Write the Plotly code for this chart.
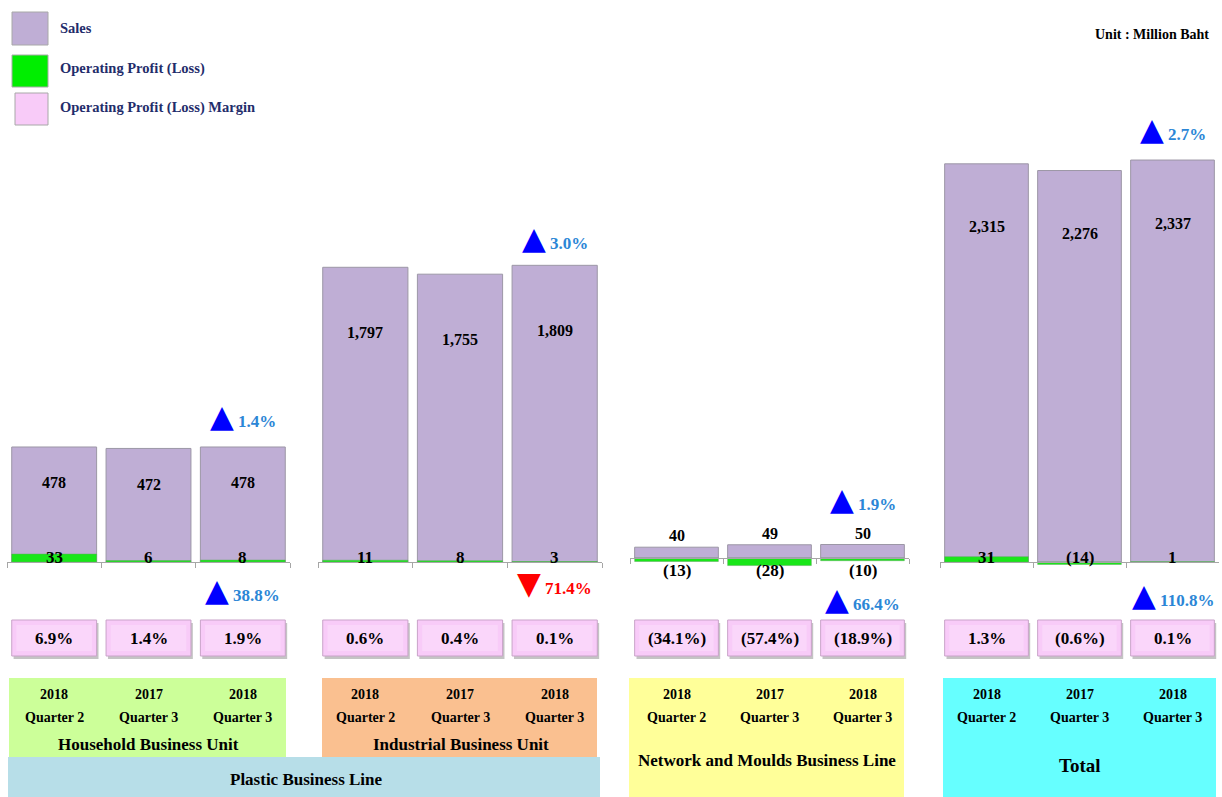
import plotly.graph_objects as go

W, H = 1222, 797

# ---------------- data ----------------
groups = ["Household Business Unit", "Industrial Business Unit",
          "Network and Moulds Business Line", "Total"]
years = ["2018", "2017", "2018"]
quarters = ["Quarter 2", "Quarter 3", "Quarter 3"]

sales_household = [478, 472, 478]
sales_industrial = [1797, 1755, 1809]
sales_network = [40, 49, 50]
sales_total = [2315, 2276, 2337]

profit_household = [33, 6, 8]
profit_industrial = [11, 8, 3]
profit_network = [-13, -28, -10]
profit_total = [31, -14, 1]

margin_household = [6.9, 1.4, 1.9]
margin_industrial = [0.6, 0.4, 0.1]
margin_network = [-34.1, -57.4, -18.9]
margin_total = [1.3, -0.6, 0.1]

sales_change = [1.4, 3.0, 1.9, 2.7]
profit_change = [38.8, -71.4, 66.4, 110.8]

sales = [sales_household, sales_industrial, sales_network, sales_total]
profit = [profit_household, profit_industrial, profit_network, profit_total]
margin = [margin_household, margin_industrial, margin_network, margin_total]

# ---------------- styling / layout (pixels) ----------------
dom_px = [(7, 290), (318, 602), (630, 909), (940, 1219)]
base_px = [562, 562, 558, 562]
px_per_unit = [0.2406, 0.164, 0.27, 0.172]
sales_label_drop = [36, 65, None, 63]
sales_chg_shift = [31, 27, 46, 31]
profit_chg_shift = [-28, -21, -41, -33]
TOP_PX, BOT_PX = 100, 600

SALES_C = "#BFAED5"
GREEN_C = "#19E619"
PINK_C = "#F8CBF8"
CHG_C = "#2B86D6"
FONT = "Liberation Serif"


def X(px):
    return px / W


def Y(py):
    return 1 - py / H


cats = [f"{y} {q}" for y, q in zip(years, quarters)]


def fmt_num(v):
    return f"({abs(v):,})" if v < 0 else f"{v:,}"


def fmt_pct(v):
    return f"({abs(v):.1f}%)" if v < 0 else f"{v:.1f}%"


fig = go.Figure()
annotations = []
shapes = []

for g in range(4):
    n = g + 1
    xa = "x" if n == 1 else f"x{n}"
    ya = "y" if n == 1 else f"y{n}"
    fig.add_trace(go.Bar(x=cats, y=sales[g], xaxis=xa, yaxis=ya, width=0.9,
                         marker=dict(color=SALES_C, line=dict(color="#9C97A6", width=1)),
                         showlegend=False, hoverinfo="skip"))
    fig.add_trace(go.Bar(x=cats, y=profit[g], xaxis=xa, yaxis=ya, width=0.9,
                         marker=dict(color=GREEN_C, line=dict(color="#5FA85F", width=0.5)),
                         showlegend=False, hoverinfo="skip"))
    s = px_per_unit[g]
    b = base_px[g]
    fig.update_layout(**{
        ("xaxis" if n == 1 else f"xaxis{n}"): dict(
            domain=[X(dom_px[g][0]), X(dom_px[g][1])], anchor="free", position=Y(b),
            type="category", categoryorder="array", categoryarray=cats,
            range=[-0.5, 2.5], showline=True, linecolor="#A6A6A6", linewidth=1,
            ticks="outside", tickson="boundaries", ticklen=5, tickcolor="#A6A6A6",
            showticklabels=False, showgrid=False, zeroline=False, fixedrange=True),
        ("yaxis" if n == 1 else f"yaxis{n}"): dict(
            domain=[Y(BOT_PX), Y(TOP_PX)], anchor=xa,
            range=[-(BOT_PX - b) / s, (b - TOP_PX) / s], visible=False,
            fixedrange=True),
    })

    for i, c in enumerate(cats):
        # sales label
        if sales_label_drop[g] is None:
            annotations.append(dict(x=c, y=sales[g][i], xref=xa, yref=ya, xanchor="center",
                                    yanchor="bottom", yshift=1, showarrow=False,
                                    text=f"<b>{fmt_num(sales[g][i])}</b>",
                                    font=dict(family=FONT, size=16, color="black")))
        else:
            annotations.append(dict(x=c, y=sales[g][i], xref=xa, yref=ya, xanchor="center",
                                    yanchor="middle", yshift=-sales_label_drop[g],
                                    showarrow=False, text=f"<b>{fmt_num(sales[g][i])}</b>",
                                    font=dict(family=FONT, size=16, color="black")))
        # profit label
        annotations.append(dict(x=c, y=0, xref=xa, yref=ya, xanchor="center", yanchor="middle",
                                yshift=(-12 if profit[g][i] < 0 and g == 2 else 5),
                                showarrow=False, text=f"<b>{fmt_num(profit[g][i])}</b>",
                                font=dict(family=FONT, size=17, color="black")))
        # margin box
        shapes.append(dict(type="rect", xref=xa, yref="paper", x0=i - 0.43, x1=i + 0.47,
                           y0=Y(659), y1=Y(623), fillcolor="#C4C4C4",
                           line=dict(width=0), layer="below"))
        shapes.append(dict(type="rect", xref=xa, yref="paper", x0=i - 0.45, x1=i + 0.45,
                           y0=Y(656), y1=Y(620), fillcolor=PINK_C,
                           line=dict(color="#C9A3C9", width=1), layer="below"))
        shapes.append(dict(type="rect", xref=xa, yref="paper", x0=i - 0.40, x1=i + 0.40,
                           y0=Y(651), y1=Y(625), fillcolor="#FAD6FA",
                           line=dict(width=0), layer="below"))
        annotations.append(dict(x=c, y=Y(638), xref=xa, yref="paper", xanchor="center",
                                yanchor="middle", showarrow=False,
                                text=f"<b>{fmt_pct(margin[g][i])}</b>",
                                font=dict(family=FONT, size=17, color="black")))
        # period labels
        annotations.append(dict(x=c, y=Y(694), xref=xa, yref="paper", xanchor="center",
                                yanchor="middle", showarrow=False, text=f"<b>{years[i]}</b>",
                                font=dict(family=FONT, size=14, color="black")))
        annotations.append(dict(x=c, y=Y(717), xref=xa, yref="paper", xanchor="center",
                                yanchor="middle", showarrow=False, text=f"<b>{quarters[i]}</b>",
                                font=dict(family=FONT, size=14, color="black")))

    # change indicators
    last = cats[-1]
    for val, yref_val, shift in ((sales_change[g], sales[g][-1], sales_chg_shift[g]),
                                 (profit_change[g], 0, profit_chg_shift[g])):
        tri = "▲" if val >= 0 else "▼"
        col = CHG_C if val >= 0 else "#FF0000"
        tcol = "#0000FF" if val >= 0 else "#FF0000"
        annotations.append(dict(
            x=last, y=yref_val, xref=xa, yref=ya, xanchor="center", yanchor="middle",
            yshift=shift, showarrow=False,
            text=f"<span style='color:{tcol};font-size:31px;font-family:DejaVu Sans'>{tri}</span> "
                 f"<b><span style='color:{col}'>{abs(val):.1f}%</span></b>",
            font=dict(family=FONT, size=17, color=col)))

# ---------------- bottom category boxes ----------------
boxes = [
    (9, 678, 286, 757, "#CCFF99"),
    (322, 678, 597, 757, "#FAC090"),
    (8, 757, 600, 797, "#B7DEE8"),
    (629, 678, 904, 797, "#FFFF99"),
    (943, 678, 1216, 797, "#66FFFF"),
]
for x0, y0, x1, y1, colr in boxes:
    shapes.append(dict(type="rect", xref="paper", yref="paper", x0=X(x0), x1=X(x1),
                       y0=Y(y1), y1=Y(y0), fillcolor=colr, line=dict(width=0),
                       layer="below"))

name_pos = [(148, 744, 17), (461, 744, 17), (767, 760, 17), (1080, 765, 19)]
for name, (px, py, fs) in zip(groups, name_pos):
    annotations.append(dict(x=X(px), y=Y(py), xref="paper", yref="paper", xanchor="center",
                            yanchor="middle", showarrow=False, text=f"<b>{name}</b>",
                            font=dict(family=FONT, size=fs, color="black")))
annotations.append(dict(x=X(306), y=Y(779), xref="paper", yref="paper", xanchor="center",
                        yanchor="middle", showarrow=False, text="<b>Plastic Business Line</b>",
                        font=dict(family=FONT, size=17, color="black")))

# ---------------- legend ----------------
legend_items = [("Sales", SALES_C, 12, 12, 48, 45, 28),
                ("Operating Profit (Loss)", "#00EE00", 12, 55, 48, 87, 69),
                ("Operating Profit (Loss) Margin", PINK_C, 15, 93, 48, 125, 107)]
for label, colr, x0, y0, x1, y1, ty in legend_items:
    shapes.append(dict(type="rect", xref="paper", yref="paper", x0=X(x0), x1=X(x1),
                       y0=Y(y1), y1=Y(y0), fillcolor=colr,
                       line=dict(color="#A8A8A8", width=1)))
    annotations.append(dict(x=X(58), y=Y(ty), xref="paper", yref="paper", xanchor="left",
                            yanchor="middle", showarrow=False, text=f"<b>{label}</b>",
                            font=dict(family=FONT, size=14.5, color="#1F2D6B")))

annotations.append(dict(x=X(1211), y=Y(35), xref="paper", yref="paper", xanchor="right",
                        yanchor="middle", showarrow=False, text="<b>Unit : Million Baht</b>",
                        font=dict(family=FONT, size=14, color="black")))

fig.update_layout(width=W, height=H, margin=dict(l=0, r=0, t=0, b=0),
                  paper_bgcolor="white", plot_bgcolor="white",
                  barmode="overlay", showlegend=False,
                  annotations=annotations, shapes=shapes)

fig.write_html("out.html")
